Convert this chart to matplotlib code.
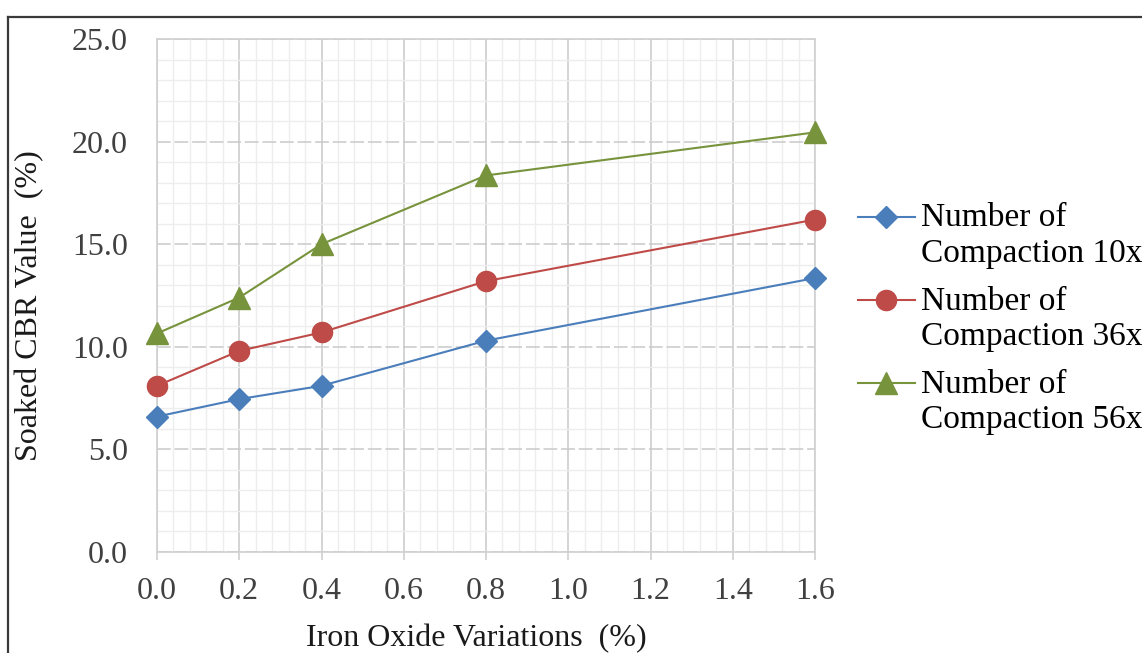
import numpy as np
import matplotlib.pyplot as plt
from matplotlib.lines import Line2D
from matplotlib.ticker import MultipleLocator, FormatStrFormatter

plt.rcParams['font.family'] = ['Liberation Serif', 'DejaVu Serif']

# iron oxide content (%) and soaked CBR results
iron_oxide = [0.0, 0.2, 0.4, 0.8, 1.6]
cbr_10x = [6.6, 7.45, 8.1, 10.3, 13.35]
cbr_36x = [8.1, 9.8, 10.7, 13.2, 16.2]
cbr_56x = [10.65, 12.4, 15.0, 18.35, 20.45]
labels = ['Number of\nCompaction 10x', 'Number of\nCompaction 36x', 'Number of\nCompaction 56x']

W, H = 1142, 653
fig = plt.figure(figsize=(W / 100, H / 100), dpi=100)
ax = fig.add_axes([157 / W, 1 - 552 / H, (815 - 157) / W, (552 - 39) / H])

ax.plot(iron_oxide, cbr_10x, '-D', color='#4a7ebb', lw=1.5, ms=11, label=labels[0], clip_on=False, zorder=3)
ax.plot(iron_oxide, cbr_36x, '-o', color='#be4b48', lw=1.5, ms=14.5, label=labels[1], clip_on=False, zorder=3)
ax.plot(iron_oxide, cbr_56x, '-^', color='#77933c', lw=1.5, ms=16, label=labels[2], clip_on=False, zorder=3)

ax.set_xlim(0, 1.6)
ax.set_ylim(0, 25)
ax.xaxis.set_major_locator(MultipleLocator(0.2))
ax.xaxis.set_minor_locator(MultipleLocator(0.04))
ax.yaxis.set_major_locator(MultipleLocator(5))
ax.yaxis.set_minor_locator(MultipleLocator(1))
ax.xaxis.set_major_formatter(FormatStrFormatter('%.1f'))
ax.yaxis.set_major_formatter(FormatStrFormatter('%.1f'))

# grid: light minor cells, solid vertical majors, dashed horizontal majors
ax.grid(which='minor', color='#ededed', lw=1.0)
ax.grid(which='major', axis='x', color='#c9c9c9', lw=1.1)
ax.grid(which='major', axis='y', color='#c9c9c9', lw=1.1, linestyle=(0, (9, 2.5)))
ax.set_axisbelow(True)
for s in ax.spines.values():
    s.set_color('#d0d0d0')
    s.set_linewidth(1.2)

ax.tick_params(axis='x', which='major', length=6, color='#d0d0d0', width=1.2, pad=12,
               labelsize=23, labelcolor='#404040')
ax.tick_params(axis='y', which='major', length=0, pad=21, labelsize=23, labelcolor='#404040')
ax.tick_params(which='minor', length=0)

ax.set_xlabel('Iron Oxide Variations  (%)', fontsize=23, color='#1a1a1a')
ax.set_ylabel('Soaked CBR Value  (%)', fontsize=23, color='#1a1a1a')
ax.xaxis.set_label_coords(0.486, -0.14)
ax.yaxis.set_label_coords(-0.172, 0.48)

leg = ax.legend(loc='upper left', bbox_to_anchor=(858 / W, 1 - 203 / H),
                bbox_transform=fig.transFigure, frameon=False, fontsize=24,
                handlelength=1.7, handletextpad=0.2, handleheight=1.1,
                labelspacing=0.52, borderpad=0, borderaxespad=0)
for t in leg.get_texts():
    t.set_linespacing(1.2)
# put each key level with the first line of its two-line label
for col in leg._legend_handle_box.get_children():
    for row in col.get_children():
        row.align = 'top'

# outer frame (top and left edges)
fig.add_artist(Line2D([8 / W, 1], [1 - 16.5 / H] * 2, color='#3a3a3a', lw=1.6))
fig.add_artist(Line2D([8 / W] * 2, [0, 1 - 16.5 / H], color='#3a3a3a', lw=1.6))

fig.savefig('out.png', dpi=100)
